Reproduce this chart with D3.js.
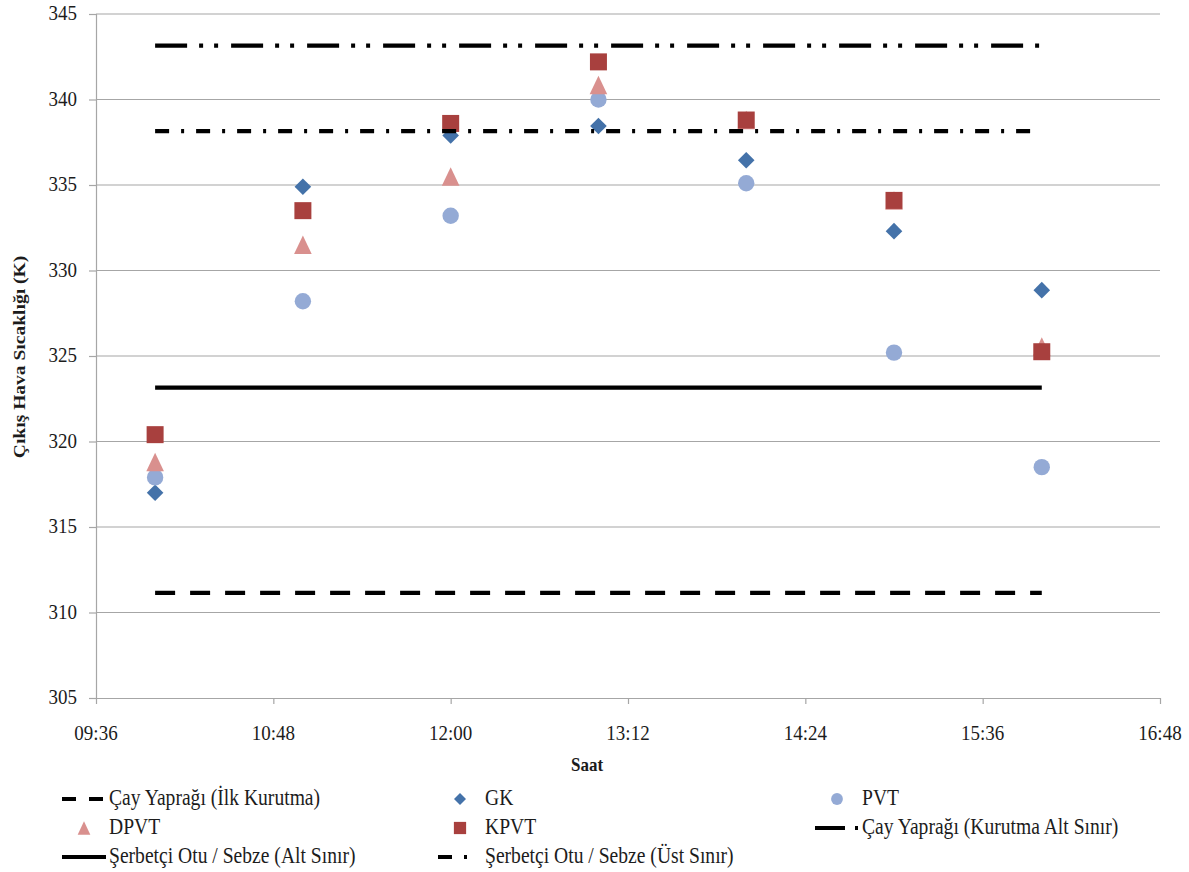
<!DOCTYPE html>
<html>
<head>
<meta charset="utf-8">
<script src="https://cdn.jsdelivr.net/npm/d3@7/dist/d3.min.js"></script>
<style>
  html, body { margin: 0; padding: 0; background: #fff; }
</style>
</head>
<body>
<svg id="chart" width="1189" height="872"></svg>
<script>
// Measurement times (hh:mm)
const times = ["10:00", "11:00", "12:00", "13:00", "14:00", "15:00", "16:00"];

// Outlet air temperature per collector type (K)
const gk   = [317.0, 334.9, 337.9, 338.45, 336.45, 332.3, 328.85];
const pvt  = [317.9, 328.2, 333.2, 340.0, 335.1, 325.2, 318.5];
const dpvt = [318.8, 331.5, 335.5, 340.85, 338.8, 334.1, 325.55];
const kpvt = [320.4, 333.5, 338.6, 342.2, 338.8, 334.1, 325.25];

// Drying temperature limits (K), drawn from first to last measurement time
const limitTimes = ["10:00", "16:00"];
const cayIlkKurutma   = [311.15, 311.15];
const cayKurutmaAlt   = [343.15, 343.15];
const serbetciAlt     = [323.15, 323.15];
const serbetciUst     = [338.15, 338.15];

// Axis ticks
const xTickLabels = ["09:36", "10:48", "12:00", "13:12", "14:24", "15:36", "16:48"];
const yTickValues = [305, 310, 315, 320, 325, 330, 335, 340, 345];

const toMin = s => { const [h, m] = s.split(":").map(Number); return h * 60 + m; };

const svg = d3.select("#chart");
const plotLeft = 96, plotRight = 1160, plotTop = 14, plotBottom = 698;

const x = d3.scaleLinear()
  .domain([toMin(xTickLabels[0]), toMin(xTickLabels[xTickLabels.length - 1])])
  .range([plotLeft, plotRight]);
const y = d3.scaleLinear().domain([305, 345]).range([plotBottom, plotTop]);

const TEXT_COLOR = "#1c1c1c";
const GRID = "#a6a6a6";
const VSTRETCH = 1.15;
const FONT = "Liberation Serif";

// Text helper: slightly tall serif glyphs, anchored on the baseline
function label(g, tx, ty, str, opts = {}) {
  return g.append("text")
    .attr("transform", `translate(${tx},${ty})` + (opts.rotate ? ` rotate(${opts.rotate})` : "") + ` scale(${opts.rotate ? VSTRETCH : 1},${opts.rotate ? 1 : VSTRETCH})`)
    .attr("text-anchor", opts.anchor || "start")
    .style("font-family", FONT)
    .attr("font-size", opts.size || 19)
    .attr("font-weight", opts.bold ? "bold" : "normal")
    .attr("fill", TEXT_COLOR)
    .text(str);
}

// Horizontal gridlines
svg.append("g").selectAll("line")
  .data(yTickValues.filter(v => v !== 305))
  .join("line")
  .attr("x1", plotLeft).attr("x2", plotRight)
  .attr("y1", d => y(d)).attr("y2", d => y(d))
  .attr("stroke", GRID).attr("stroke-width", 1.2);

// Y axis
const yAxis = svg.append("g")
  .attr("transform", `translate(${plotLeft},0)`)
  .call(d3.axisLeft(y).tickValues(yTickValues).tickSize(7).tickFormat(""));
yAxis.select(".domain").attr("stroke", GRID).attr("stroke-width", 1.2);
yAxis.selectAll(".tick line").attr("stroke", GRID).attr("stroke-width", 1.2);
const yLab = svg.append("g");
yTickValues.forEach(v => label(yLab, 77, y(v) + 6, String(v), { anchor: "end" }));

// X axis
const xTickMins = xTickLabels.map(toMin);
const xAxis = svg.append("g")
  .attr("transform", `translate(0,${plotBottom})`)
  .call(d3.axisBottom(x).tickValues(xTickMins).tickSize(6).tickSizeOuter(0).tickFormat(""));
xAxis.select(".domain").attr("stroke", GRID).attr("stroke-width", 1.2);
xAxis.selectAll(".tick line").attr("stroke", GRID).attr("stroke-width", 1.2);
const xLab = svg.append("g");
xTickLabels.forEach((t, i) => label(xLab, x(xTickMins[i]), 740, t, { anchor: "middle" }));

// Axis titles
label(svg, 587, 771, "Saat", { anchor: "middle", bold: true, size: 17 });
label(svg, 25, 357, "Çıkış Hava Sıcaklığı (K)", { anchor: "middle", bold: true, size: 17, rotate: -90 });

// Marker shapes, centred on their bounding box
const shapes = {
  diamond: r => `M0,${-r}L${r},0L0,${r}L${-r},0Z`,
  square:  r => `M${-r},${-r}H${r}V${r}H${-r}Z`,
  triangle: r => `M0,${-r * 1.05}L${r},${r * 1.05}L${-r},${r * 1.05}Z`,
  circle:  r => `M${r},0A${r},${r} 0 1,1 ${-r},0A${r},${r} 0 1,1 ${r},0Z`
};

const series = [
  { name: "GK",   values: gk,   shape: "diamond",  r: 8.3, color: "#4472a9" },
  { name: "PVT",  values: pvt,  shape: "circle",   r: 8.2, color: "#94aad5" },
  { name: "DPVT", values: dpvt, shape: "triangle", r: 8.8, color: "#d9908e" },
  { name: "KPVT", values: kpvt, shape: "square",   r: 8.5, color: "#a8403e" }
];

const limits = [
  { name: "Çay Yaprağı (İlk Kurutma)",        values: cayIlkKurutma, dash: "20,15",              legendDash: "14,13" },
  { name: "Çay Yaprağı (Kurutma Alt Sınır)",  values: cayKurutmaAlt, dash: "32,12,4,11,4,13",    legendDash: "30,10,3,20" },
  { name: "Şerbetçi Otu / Sebze (Alt Sınır)", values: serbetciAlt,   dash: null,                 legendDash: null },
  { name: "Şerbetçi Otu / Sebze (Üst Sınır)", values: serbetciUst,   dash: "14,12,3,12",         legendDash: "14,12,3,20" }
];

const lineGen = d3.line().x(d => x(toMin(d.t))).y(d => y(d.v));
function drawLimit(l) {
  svg.append("path")
    .datum(limitTimes.map((t, i) => ({ t, v: l.values[i] })))
    .attr("d", lineGen)
    .attr("fill", "none")
    .attr("stroke", "#000")
    .attr("stroke-width", 4.2)
    .attr("stroke-dasharray", l.dash);
}

function drawSeries(s) {
  svg.append("g").selectAll("path")
    .data(times.map((t, i) => ({ t, v: s.values[i] })))
    .join("path")
    .attr("transform", d => `translate(${x(toMin(d.t))},${y(d.v)})`)
    .attr("d", shapes[s.shape](s.r))
    .attr("fill", s.color);
}

// Plot order follows the legend order
drawLimit(limits[0]);
series.forEach(drawSeries);
drawLimit(limits[1]);
drawLimit(limits[2]);
drawLimit(limits[3]);

// Legend: three columns, filled row by row
const legendItems = [
  { type: "line", item: limits[0] },
  { type: "marker", item: series[0] },
  { type: "marker", item: series[1] },
  { type: "marker", item: series[2] },
  { type: "marker", item: series[3] },
  { type: "line", item: limits[1] },
  { type: "line", item: limits[2] },
  { type: "line", item: limits[3] }
];
const colX = [62, 438, 815];
const rowY = [799, 828, 857];
const symW = 44;
const legend = svg.append("g");
legendItems.forEach((it, i) => {
  const cx = colX[i % 3], cy = rowY[Math.floor(i / 3)];
  if (it.type === "line") {
    legend.append("line")
      .attr("x1", cx).attr("x2", cx + symW)
      .attr("y1", cy).attr("y2", cy)
      .attr("stroke", "#000").attr("stroke-width", 4.2)
      .attr("stroke-dasharray", it.item.legendDash);
  } else {
    legend.append("path")
      .attr("transform", `translate(${cx + symW / 2},${cy})`)
      .attr("d", shapes[it.item.shape](it.item.r * 0.72))
      .attr("fill", it.item.color);
  }
  label(legend, cx + symW + 3, cy + 6, it.item.name, { size: 19.6 });
});
</script>
</body>
</html>
